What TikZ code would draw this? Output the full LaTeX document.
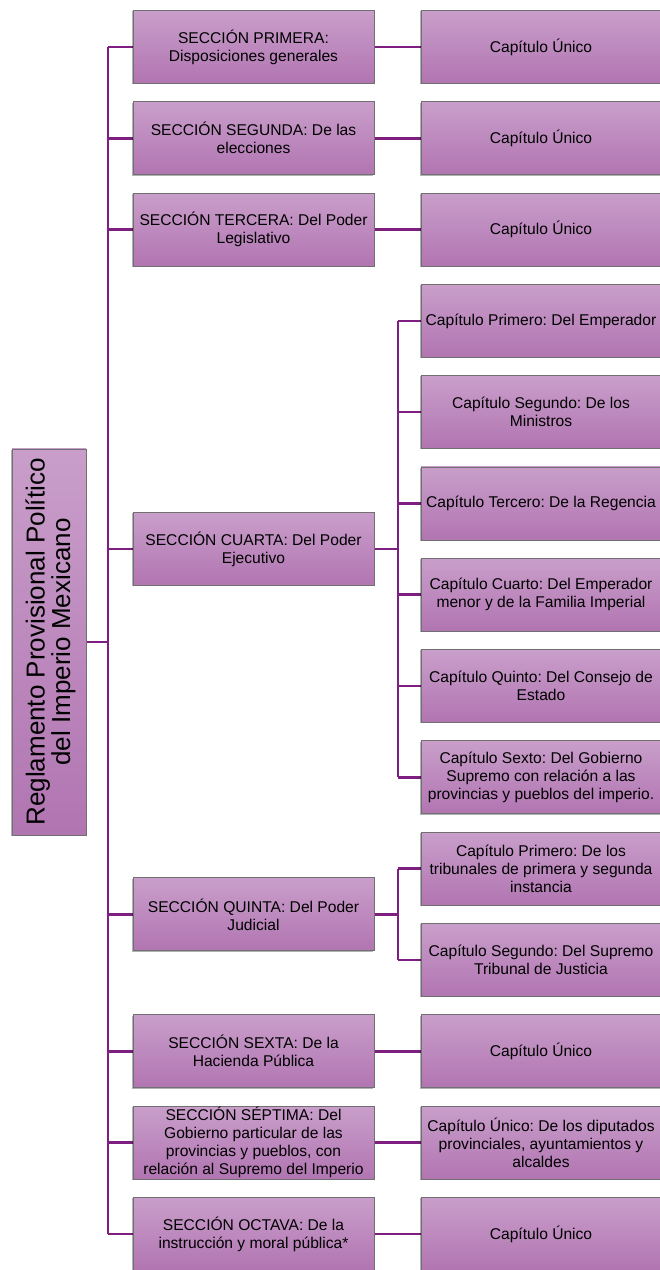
\documentclass[tikz,border=0pt]{standalone}
\usepackage{fontspec}
\setmainfont{Liberation Sans}
\frenchspacing
\usetikzlibrary{shadows,backgrounds}
\definecolor{boxtop}{RGB}{201,158,202}
\definecolor{boxbot}{RGB}{177,117,178}
\definecolor{boxedge}{RGB}{112,112,112}
\definecolor{linkpurple}{RGB}{125,30,128}
\begin{document}
\begin{tikzpicture}[x=1pt,y=1pt,
  box/.style={draw=boxedge, line width=0.8pt, top color=boxtop, bottom color=boxbot,
    inner sep=0pt, outer sep=0pt, align=center, text=black,
    font=\fontsize{15.6}{18}\selectfont,
    drop shadow={shadow xshift=-0.8pt, shadow yshift=-0.8pt, fill=black, opacity=0.3}},
  secbox/.style={box, minimum width=241, minimum height=73},
  capbox/.style={box, minimum width=240, minimum height=73},
  roottitle/.style={rotate=90, align=center, text=black, inner sep=0pt,
    font=\fontsize{26}{25.5}\selectfont},
  link/.style={draw=linkpurple, line width=2.6pt}]
\useasboundingbox (0,0) rectangle (660,1270);
\clip (0,0) rectangle (660,1270);

% root
\node[box, minimum width=74, minimum height=386] (root) at (49,628) {};
\node[roottitle] (roottext) at ([xshift=1.5pt]root.center) {Reglamento Provisional Político\\del Imperio Mexicano};

% sections
\node[secbox] (s1) at (253.5,1223)   {SECCIÓN PRIMERA:\\Disposiciones generales};
\node[secbox] (s2) at (253.5,1131.7) {SECCIÓN SEGUNDA: De las\\elecciones};
\node[secbox] (s3) at (253.5,1040.4) {SECCIÓN TERCERA: Del Poder\\Legislativo};
\node[secbox] (s4) at (253.5,720.85) {SECCIÓN CUARTA: Del Poder\\Ejecutivo};
\node[secbox] (s5) at (253.5,355.65) {SECCIÓN QUINTA: Del Poder\\Judicial};
\node[secbox] (s6) at (253.5,218.7)  {SECCIÓN SEXTA: De la\\Hacienda Pública};
\node[secbox] (s7) at (253.5,127.4)  {SECCIÓN SÉPTIMA: Del\\Gobierno particular de las\\provincias y pueblos, con\\relación al Supremo del Imperio};
\node[secbox] (s8) at (253.5,36.1)   {SECCIÓN OCTAVA: De la\\instrucción y moral pública*};

% chapters
\node[capbox] (k1) at (541,1223)   {Capítulo Único};
\node[capbox] (k2) at (541,1131.7) {Capítulo Único};
\node[capbox] (k3) at (541,1040.4) {Capítulo Único};
\node[capbox] (c1) at (541,949.1)  {Capítulo Primero: Del Emperador};
\node[capbox] (c2) at (541,857.8)  {Capítulo Segundo: De los\\Ministros};
\node[capbox] (c3) at (541,766.5)  {Capítulo Tercero: De la Regencia};
\node[capbox] (c4) at (541,675.2)  {Capítulo Cuarto: Del Emperador\\menor y de la Familia Imperial};
\node[capbox] (c5) at (541,583.9)  {Capítulo Quinto: Del Consejo de\\Estado};
\node[capbox] (c6) at (541,492.6)  {Capítulo Sexto: Del Gobierno\\Supremo con relación a las\\provincias y pueblos del imperio.};
\node[capbox] (d1) at (541,401.3)  {Capítulo Primero: De los\\tribunales de primera y segunda\\instancia};
\node[capbox] (d2) at (541,310)    {Capítulo Segundo: Del Supremo\\Tribunal de Justicia};
\node[capbox] (k6) at (541,218.7)  {Capítulo Único};
\node[capbox] (k7) at (541,127.4)  {Capítulo Único: De los diputados\\provinciales, ayuntamientos y\\alcaldes};
\node[capbox] (k8) at (541,36.1)   {Capítulo Único};

% trunk and branch points
\coordinate (trunk) at (108,0);
\coordinate (fork4) at (398,0);
\coordinate (fork5) at (398,0);

\begin{scope}[on background layer]
  \draw[link] (root.east) -- (root.east -| trunk);
  \draw[link] (s1.west -| trunk) -- (s8.west -| trunk);
  \foreach \s in {s1,s2,s3,s4,s5,s6,s7,s8}
    \draw[link] (\s.west -| trunk) -- (\s.west);
  % single-chapter sections
  \draw[link] (s1.east) -- (k1.west);
  \draw[link] (s2.east) -- (k2.west);
  \draw[link] (s3.east) -- (k3.west);
  \draw[link] (s6.east) -- (k6.west);
  \draw[link] (s7.east) -- (k7.west);
  \draw[link] (s8.east) -- (k8.west);
  % fourth section
  \draw[link] (s4.east) -- (s4.east -| fork4);
  \draw[link] (c1.west -| fork4) -- (c6.west -| fork4);
  \foreach \c in {c1,c2,c3,c4,c5,c6}
    \draw[link] (\c.west -| fork4) -- (\c.west);
  % fifth section
  \draw[link] (s5.east) -- (s5.east -| fork5);
  \draw[link] (d1.west -| fork5) -- (d2.west -| fork5);
  \foreach \c in {d1,d2}
    \draw[link] (\c.west -| fork5) -- (\c.west);
\end{scope}
\end{tikzpicture}
\end{document}
